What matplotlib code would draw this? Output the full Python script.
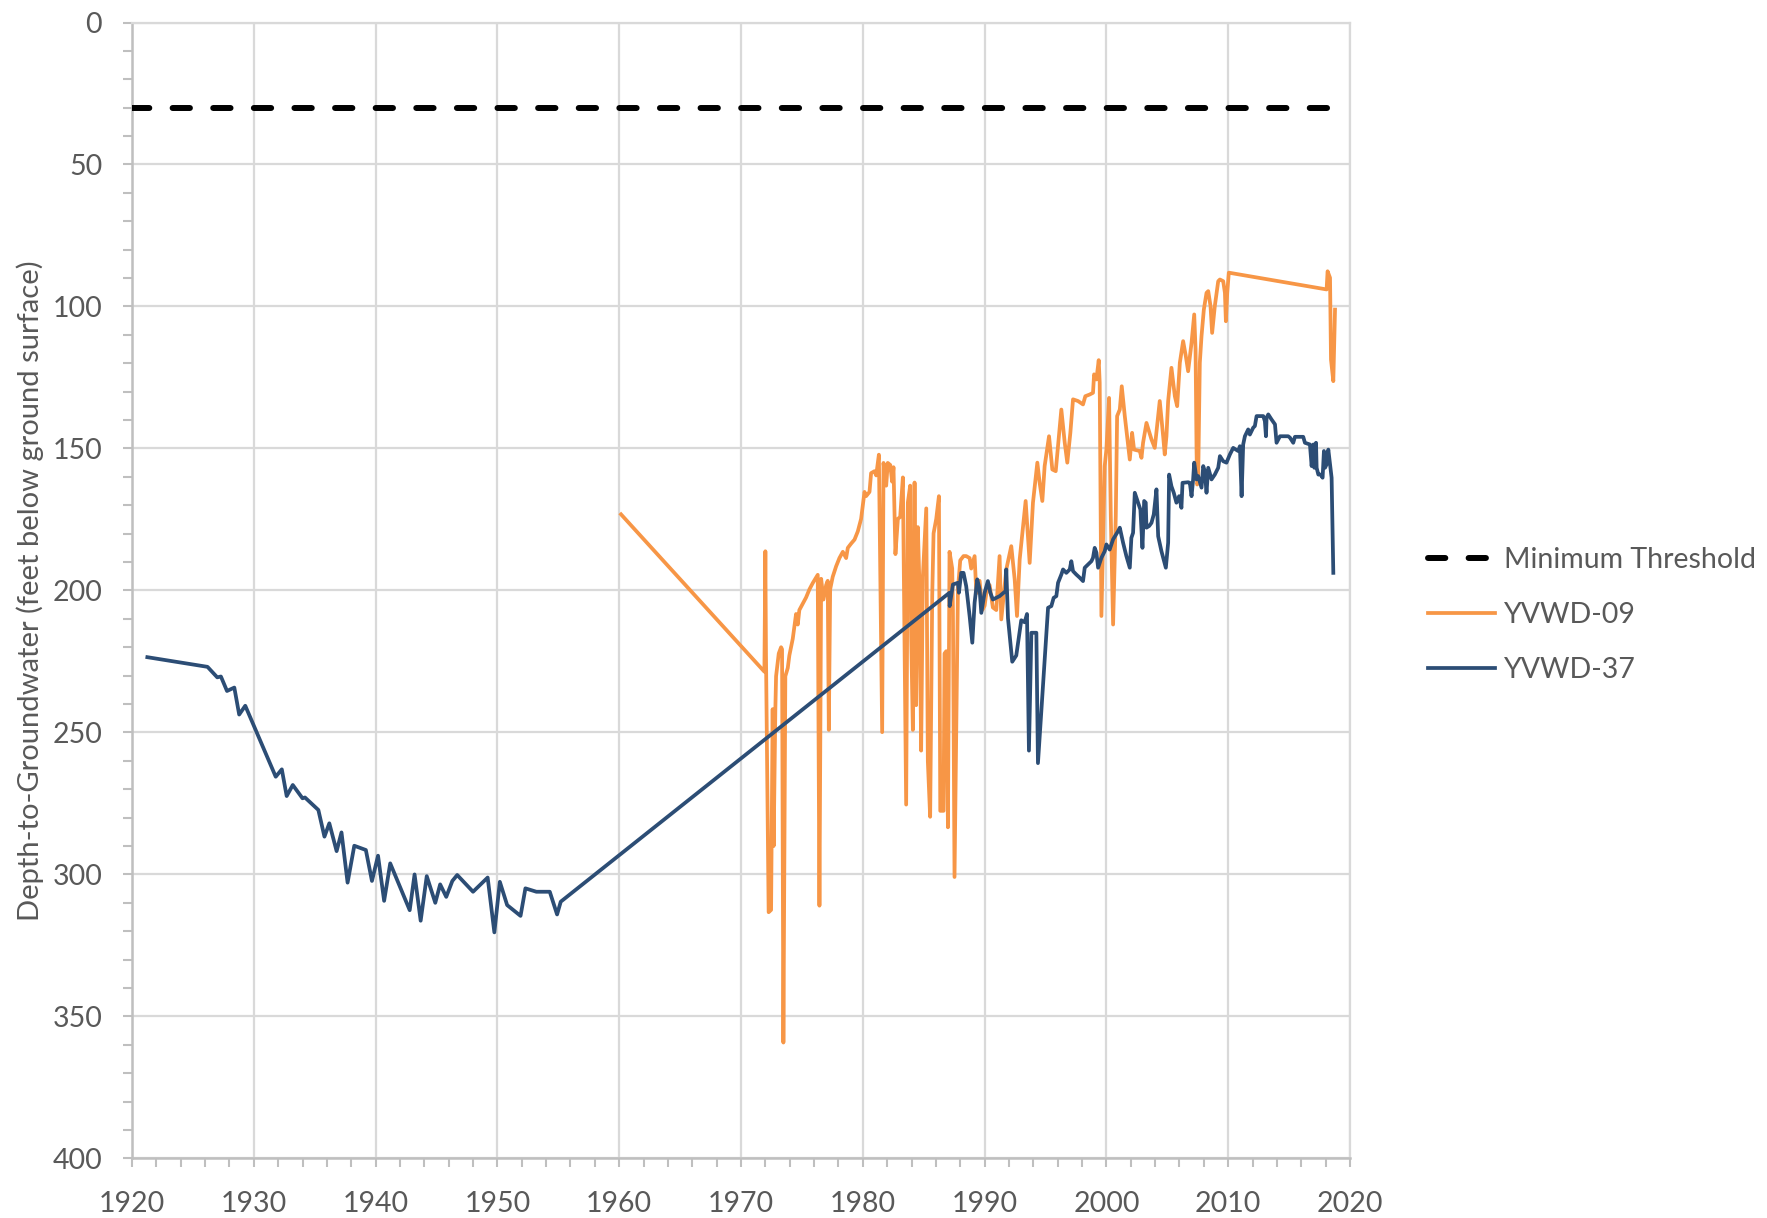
import matplotlib
matplotlib.use("Agg")
import matplotlib.pyplot as plt
from matplotlib.ticker import MultipleLocator
from matplotlib.lines import Line2D

plt.rcParams['font.family'] = ['Lato', 'DejaVu Sans']

# ---------------- data ----------------
threshold_depth = 30

yvwd09_year = [
    1960.15, 1971.92, 1972.00, 1972.05, 1972.27, 1972.47, 1972.60, 1972.68, 1972.82, 1972.88,
    1973.10, 1973.29, 1973.37, 1973.48, 1973.64, 1973.84, 1973.97, 1974.25, 1974.52, 1974.66,
    1974.79, 1975.07, 1975.34, 1975.62, 1975.89, 1976.30, 1976.44, 1976.58, 1976.77, 1976.99,
    1977.12, 1977.21, 1977.32, 1977.53, 1977.81, 1978.08, 1978.36, 1978.63, 1978.77, 1979.04,
    1979.32, 1979.59, 1979.86, 1980.14, 1980.27, 1980.55, 1980.68, 1980.96, 1981.10, 1981.32,
    1981.59, 1981.70, 1981.92, 1982.05, 1982.25, 1982.41, 1982.52, 1982.68, 1982.88, 1983.07,
    1983.29, 1983.56, 1983.70, 1983.89, 1983.97, 1984.11, 1984.25, 1984.38, 1984.52, 1984.66,
    1984.79, 1984.93, 1985.21, 1985.34, 1985.53, 1985.70, 1985.81, 1986.03, 1986.25, 1986.36,
    1986.63, 1986.71, 1986.85, 1986.99, 1987.12, 1987.34, 1987.40, 1987.53, 1987.81, 1988.00,
    1988.27, 1988.49, 1988.77, 1988.90, 1989.18, 1989.32, 1989.59, 1989.81, 1990.00, 1990.14,
    1990.41, 1990.68, 1990.96, 1991.23, 1991.37, 1991.78, 1992.19, 1992.47, 1992.66, 1992.88,
    1993.37, 1993.70, 1993.97, 1994.33, 1994.52, 1994.74, 1994.93, 1995.29, 1995.56, 1995.84,
    1996.30, 1996.58, 1996.79, 1997.04, 1997.26, 1997.67, 1998.08, 1998.27, 1998.63, 1998.90,
    1998.99, 1999.18, 1999.37, 1999.45, 1999.59, 1999.86, 2000.00, 2000.22, 2000.36, 2000.55,
    2000.77, 2000.88, 2001.10, 2001.26, 2001.51, 2001.92, 2002.11, 2002.27, 2002.74, 2002.88,
    2003.01, 2003.29, 2003.70, 2003.97, 2004.16, 2004.38, 2004.66, 2004.79, 2004.93, 2005.07,
    2005.34, 2005.62, 2005.81, 2006.03, 2006.30, 2006.52, 2006.71, 2006.99, 2007.21, 2007.32,
    2007.40, 2007.45, 2007.53, 2007.67, 2007.81, 2008.00, 2008.22, 2008.36, 2008.55, 2008.68,
    2008.90, 2009.18, 2009.32, 2009.59, 2009.73, 2009.81, 2009.92, 2010.05, 2018.08, 2018.16,
    2018.36, 2018.44, 2018.63, 2018.77,
]
yvwd09_depth = [
    173.2, 228.6, 186.2, 222.2, 313.3, 312.5, 241.8, 290.0, 241.8, 230.2,
    222.2, 220.0, 220.7, 359.2, 230.2, 227.3, 222.9, 217.0, 208.3, 212.0,
    206.9, 204.7, 202.5, 199.6, 197.4, 194.5, 311.0, 195.9, 203.2, 198.1,
    196.6, 249.1, 199.6, 195.2, 191.5, 188.6, 186.4, 188.6, 185.0, 183.5,
    182.1, 179.2, 174.8, 165.3, 166.8, 165.3, 158.7, 158.0, 159.5, 152.2,
    249.9, 155.1, 163.1, 155.1, 155.8, 161.7, 156.6, 187.2, 174.8, 174.1,
    160.2, 275.4, 169.0, 163.1, 215.6, 249.1, 162.0, 240.4, 177.7, 199.6,
    256.4, 195.2, 171.1, 260.1, 279.7, 201.7, 179.9, 174.8, 166.8, 277.6,
    277.6, 222.2, 221.4, 283.4, 186.4, 192.3, 206.9, 300.9, 199.6, 189.4,
    187.9, 187.9, 188.6, 192.3, 187.9, 201.0, 196.6, 206.9, 205.4, 201.0,
    198.1, 206.0, 206.9, 187.9, 210.2, 192.6, 184.4, 196.1, 209.0, 189.1,
    168.5, 190.3, 169.1, 155.0, 162.1, 168.5, 156.2, 145.7, 157.4, 158.0,
    136.3, 148.0, 155.0, 144.5, 132.7, 133.3, 134.5, 131.6, 131.0, 130.4,
    123.9, 125.7, 118.9, 126.9, 209.0, 156.2, 150.4, 132.2, 173.8, 212.0,
    173.8, 138.6, 136.3, 128.1, 138.6, 153.9, 144.5, 150.4, 150.9, 153.3,
    148.0, 141.0, 146.8, 149.8, 142.1, 133.3, 145.7, 152.1, 145.7, 133.3,
    121.6, 131.6, 135.1, 119.8, 112.2, 117.5, 122.8, 112.8, 102.8, 115.1,
    150.4, 162.7, 162.1, 119.8, 110.4, 101.1, 95.2, 94.6, 99.9, 109.3,
    99.9, 91.1, 90.5, 91.1, 95.2, 105.2, 95.2, 88.1, 94.0, 87.6,
    89.9, 118.7, 126.3, 101.1,
]

yvwd37_year = [
    1921.26, 1926.2, 1927.0, 1927.3, 1927.8, 1928.4, 1928.8, 1929.3, 1931.8, 1932.3,
    1932.7, 1933.2, 1934.0, 1934.2, 1935.3, 1935.8, 1936.2, 1936.8, 1937.2, 1937.7,
    1938.25, 1939.2, 1939.7, 1940.2, 1940.7, 1941.2, 1942.8, 1943.2, 1943.7, 1944.2,
    1944.9, 1945.3, 1945.8, 1946.3, 1946.7, 1948.0, 1949.2, 1949.75, 1950.2, 1950.8,
    1951.9, 1952.3, 1953.2, 1954.3, 1954.9, 1955.2,
    1987.12, 1987.13, 1987.40, 1987.81, 1987.89, 1988.08, 1988.27, 1988.49, 1988.77, 1988.99,
    1989.18, 1989.40, 1989.59, 1989.73, 1990.00, 1990.27, 1990.47, 1990.68, 1991.23, 1991.73,
    1991.78, 1991.92, 1992.27, 1992.60, 1993.01, 1993.29, 1993.48, 1993.64, 1993.84, 1994.25,
    1994.38, 1995.21, 1995.48, 1995.67, 1995.89, 1996.03, 1996.30, 1996.44, 1996.71, 1996.99,
    1997.12, 1997.26, 1997.53, 1997.81, 1998.08, 1998.22, 1998.77, 1998.90, 1999.04, 1999.18,
    1999.32, 1999.59, 1999.86, 2000.00, 2000.27, 2000.55, 2000.96, 2001.10, 2001.37, 2001.64,
    2001.92, 2002.05, 2002.19, 2002.33, 2002.60, 2002.79, 2002.96, 2003.10, 2003.23, 2003.29,
    2003.51, 2003.70, 2003.89, 2004.11, 2004.25, 2004.52, 2004.88, 2005.07, 2005.15, 2005.34,
    2005.53, 2005.75, 2005.97, 2006.16, 2006.25, 2006.71, 2006.85, 2006.99, 2007.12, 2007.21,
    2007.40, 2007.53, 2007.81, 2007.95, 2008.08, 2008.22, 2008.36, 2008.63, 2008.90, 2009.18,
    2009.32, 2009.59, 2009.86, 2010.14, 2010.41, 2010.82, 2010.96, 2011.10, 2011.23, 2011.37,
    2011.64, 2011.78, 2012.05, 2012.19, 2012.33, 2012.88, 2013.01, 2013.10, 2013.15, 2013.29,
    2013.56, 2013.84, 2013.97, 2014.25, 2014.93, 2015.07, 2015.34, 2015.48, 2016.16, 2016.30,
    2016.71, 2016.85, 2016.99, 2017.07, 2017.21, 2017.26, 2017.40, 2017.59, 2017.75, 2017.86,
    2017.95, 2018.08, 2018.22, 2018.36, 2018.49, 2018.63,
]
yvwd37_depth = [
    223.5, 226.9, 230.6, 230.3, 235.4, 234.2, 243.7, 240.6, 265.6, 263.0,
    272.4, 268.5, 273.2, 272.9, 277.3, 286.7, 282.0, 291.8, 285.2, 302.9,
    289.9, 291.4, 302.3, 293.4, 309.3, 296.1, 312.6, 300.0, 316.3, 300.6,
    310.0, 303.5, 307.9, 302.3, 300.2, 306.1, 301.1, 320.4, 302.6, 310.8,
    314.6, 304.9, 306.1, 306.1, 314.1, 309.6,
    200.8, 205.5, 197.9, 197.3, 200.8, 193.8, 193.8, 198.5, 209.0, 218.4,
    204.3, 196.1, 199.6, 207.9, 200.8, 196.7, 200.8, 203.2, 202.0, 200.2,
    192.6, 209.8, 225.1, 222.9, 210.5, 211.2, 208.3, 256.4, 214.9, 214.9,
    260.8, 206.1, 205.5, 202.6, 202.0, 197.3, 194.4, 192.6, 193.8, 192.6,
    189.7, 193.2, 194.4, 195.5, 196.7, 192.0, 189.7, 188.5, 185.0, 186.7,
    192.0, 188.5, 186.2, 183.8, 185.6, 182.0, 179.1, 177.9, 183.2, 187.9,
    192.0, 181.5, 179.7, 165.6, 169.1, 171.5, 185.0, 168.5, 169.1, 177.9,
    177.3, 176.2, 173.2, 164.4, 180.9, 186.2, 192.0, 183.2, 159.2, 163.3,
    165.6, 169.1, 166.8, 170.9, 162.1, 161.9, 162.1, 166.8, 160.9, 155.0,
    160.9, 159.7, 163.8, 156.2, 158.0, 165.6, 156.8, 160.9, 159.2, 156.8,
    152.7, 154.5, 155.0, 152.1, 149.8, 150.9, 149.2, 166.8, 148.6, 145.7,
    143.3, 145.1, 142.7, 142.1, 138.6, 138.6, 140.4, 145.7, 139.2, 138.0,
    139.8, 141.5, 148.0, 145.7, 145.7, 146.2, 148.0, 145.9, 145.9, 148.0,
    148.6, 156.2, 148.6, 156.8, 148.0, 156.8, 159.2, 159.2, 160.3, 150.9,
    156.8, 155.6, 150.4, 155.6, 160.3, 193.8,
]

x_limits = (1920, 2020)
y_limits = (0, 400)
series_labels = ["Minimum Threshold", "YVWD-09", "YVWD-37"]
y_label = "Depth-to-Groundwater (feet below ground surface)"

# ---------------- styling ----------------
ORANGE = "#F79646"
BLUE = "#2C4D75"
GRID = "#D9D9D9"
TICKC = "#BFBFBF"
TEXTC = "#595959"
DASH = (2.9, 3.9)

fig = plt.figure(figsize=(17.67, 12.18), dpi=100)
ax = fig.add_axes([132/1767, 1 - 1158.4/1218, (1350-132)/1767, (1158.4-22.5)/1218])

ax.plot(yvwd09_year, yvwd09_depth, color=ORANGE, lw=2.7, solid_joinstyle='round', zorder=3)
ax.plot(yvwd37_year, yvwd37_depth, color=BLUE, lw=2.7, solid_joinstyle='round', zorder=4)
ax.axhline(threshold_depth, color='black', lw=4.3, dashes=DASH,
           dash_capstyle='round', zorder=5)

ax.set_xlim(*x_limits)
ax.set_ylim(y_limits[1], y_limits[0])

ax.xaxis.set_major_locator(MultipleLocator(10))
ax.xaxis.set_minor_locator(MultipleLocator(2))
ax.yaxis.set_major_locator(MultipleLocator(50))
ax.yaxis.set_minor_locator(MultipleLocator(10))

ax.grid(True, which='major', color=GRID, lw=1.6, zorder=0)
ax.set_axisbelow(True)

for side in ['top', 'right']:
    ax.spines[side].set_color(GRID)
    ax.spines[side].set_linewidth(1.6)
for side in ['left', 'bottom']:
    ax.spines[side].set_color(TICKC)
    ax.spines[side].set_linewidth(1.8)

ax.tick_params(axis='both', which='both', direction='out', length=6.5, width=1.5,
               color=TICKC, labelcolor=TEXTC, labelsize=20.5)
ax.tick_params(axis='x', which='major', pad=17)
ax.tick_params(axis='y', which='major', pad=15)

ax.set_ylabel(y_label, fontsize=21, color=TEXTC)
ax.yaxis.set_label_coords(-0.0725, 0.5)

handles = [
    Line2D([], [], color='black', lw=4.3, dashes=DASH, dash_capstyle='round'),
    Line2D([], [], color=ORANGE, lw=2.7),
    Line2D([], [], color=BLUE, lw=2.7),
]
fig.legend(handles, series_labels, loc='center left',
           bbox_to_anchor=(1428/1767, 1 - 615/1218), frameon=False,
           fontsize=20.5, labelcolor=TEXTC, handlelength=2.35, handletextpad=0.32,
           labelspacing=1.01, borderaxespad=0, borderpad=0)

fig.savefig("out.png", dpi=100)
